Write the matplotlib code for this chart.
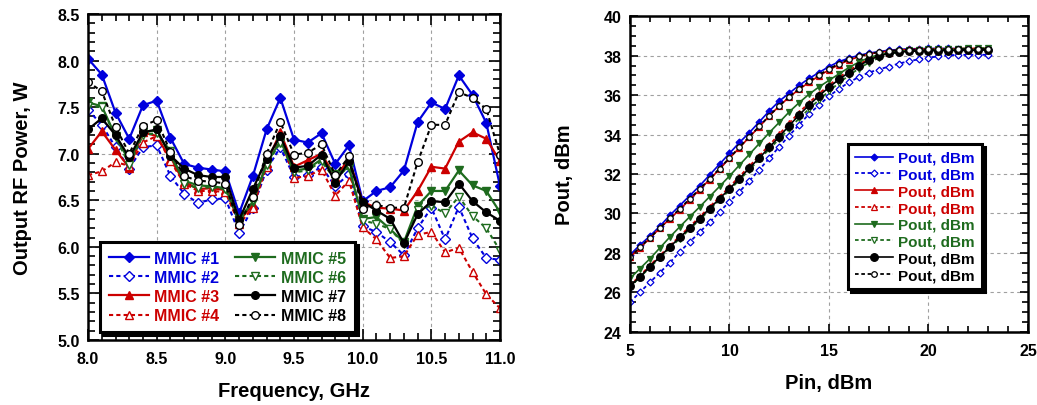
import matplotlib
matplotlib.use("Agg")
import matplotlib.pyplot as plt
from matplotlib.ticker import MultipleLocator, FormatStrFormatter

plt.rcParams["font.family"] = ["Liberation Sans", "DejaVu Sans"]
plt.rcParams["font.weight"] = "bold"
plt.rcParams["axes.labelweight"] = "bold"

# ---- left chart: output power vs frequency ----
freq = [8.0, 8.1, 8.2, 8.3, 8.4, 8.5, 8.6, 8.7, 8.8, 8.9, 9.0, 9.1, 9.2, 9.3, 9.4, 9.5,
        9.6, 9.7, 9.8, 9.9, 10.0, 10.1, 10.2, 10.3, 10.4, 10.5, 10.6, 10.7, 10.8, 10.9, 11.0]
mmic1 = [8.02, 7.85, 7.44, 7.16, 7.52, 7.57, 7.17, 6.89, 6.85, 6.83, 6.81, 6.36, 6.76, 7.26, 7.60, 7.15,
         7.12, 7.22, 6.89, 7.09, 6.49, 6.60, 6.64, 6.82, 7.34, 7.55, 7.48, 7.84, 7.63, 7.33, 6.65]
mmic2 = [7.47, 7.31, 7.07, 6.84, 7.07, 7.09, 6.76, 6.57, 6.47, 6.51, 6.52, 6.15, 6.42, 6.83, 7.07, 6.75,
         6.77, 6.86, 6.65, 6.78, 6.22, 6.16, 6.05, 5.91, 6.20, 6.42, 6.08, 6.43, 6.09, 5.88, 5.86]
mmic3 = [7.05, 7.24, 7.04, 6.85, 7.23, 7.19, 6.94, 6.70, 6.62, 6.63, 6.61, 6.28, 6.45, 6.90, 7.23, 6.86,
         6.93, 7.00, 6.75, 6.94, 6.48, 6.42, 6.41, 6.39, 6.60, 6.86, 6.84, 7.13, 7.23, 7.16, 6.92]
mmic4 = [6.77, 6.81, 6.91, 6.87, 7.12, 7.19, 6.92, 6.68, 6.60, 6.60, 6.59, 6.24, 6.42, 6.86, 7.18, 6.74,
         6.76, 6.83, 6.55, 6.71, 6.21, 6.08, 5.88, 5.90, 6.13, 6.16, 5.94, 5.99, 5.73, 5.49, 5.34]
mmic5 = [7.55, 7.51, 7.19, 6.92, 7.23, 7.25, 6.98, 6.71, 6.66, 6.65, 6.63, 6.30, 6.48, 6.89, 7.14, 6.82,
         6.84, 6.94, 6.78, 6.85, 6.30, 6.32, 6.19, 6.05, 6.44, 6.60, 6.60, 6.82, 6.66, 6.60, 6.37]
mmic6 = [7.51, 7.50, 7.18, 6.88, 7.20, 7.22, 7.03, 6.68, 6.63, 6.64, 6.62, 6.27, 6.50, 6.88, 7.12, 6.80,
         6.82, 6.92, 6.72, 6.87, 6.28, 6.25, 6.19, 6.03, 6.40, 6.44, 6.36, 6.54, 6.33, 6.20, 5.96]
mmic7 = [7.26, 7.38, 7.20, 6.96, 7.23, 7.26, 6.98, 6.84, 6.77, 6.75, 6.75, 6.29, 6.62, 6.94, 7.19, 6.85,
         6.87, 6.99, 6.69, 6.92, 6.48, 6.39, 6.30, 6.04, 6.35, 6.49, 6.48, 6.68, 6.49, 6.37, 6.28]
mmic8 = [7.77, 7.67, 7.29, 7.00, 7.30, 7.36, 7.02, 6.76, 6.71, 6.70, 6.68, 6.23, 6.54, 7.00, 7.34, 6.99,
         7.01, 7.10, 6.77, 6.97, 6.41, 6.45, 6.42, 6.42, 6.91, 7.31, 7.31, 7.66, 7.60, 7.48, 6.99]
mmic_labels = ["MMIC #1", "MMIC #2", "MMIC #3", "MMIC #4", "MMIC #5", "MMIC #6", "MMIC #7", "MMIC #8"]

# ---- right chart: Pout vs Pin ----
pin = [5.0, 5.5, 6.0, 6.5, 7.0, 7.5, 8.0, 8.5, 9.0, 9.5, 10.0, 10.5, 11.0, 11.5, 12.0, 12.5, 13.0, 13.5,
       14.0, 14.5, 15.0, 15.5, 16.0, 16.5, 17.0, 17.5, 18.0, 18.5, 19.0, 19.5, 20.0, 20.5, 21.0, 21.5,
       22.0, 22.5, 23.0]
pout1 = [27.90, 28.40, 28.85, 29.35, 29.90, 30.40, 30.90, 31.40, 31.95, 32.50, 33.05, 33.60, 34.10, 34.65,
         35.20, 35.70, 36.10, 36.50, 36.85, 37.15, 37.45, 37.70, 37.88, 38.02, 38.13, 38.21, 38.28, 38.32,
         38.35, 38.36, 38.37, 38.37, 38.37, 38.36, 38.35, 38.33, 38.32]
pout2 = [25.50, 26.00, 26.50, 27.00, 27.50, 28.05, 28.55, 29.05, 29.55, 30.08, 30.60, 31.10, 31.65, 32.22,
         32.80, 33.38, 33.95, 34.50, 35.05, 35.50, 35.95, 36.32, 36.65, 36.92, 37.15, 37.30, 37.45, 37.60,
         37.72, 37.82, 37.90, 37.97, 38.03, 38.04, 38.05, 38.05, 38.05]
pout3 = [27.78, 28.25, 28.75, 29.25, 29.72, 30.20, 30.70, 31.20, 31.72, 32.25, 32.80, 33.33, 33.88, 34.40,
         34.95, 35.45, 35.90, 36.30, 36.65, 36.98, 37.28, 37.55, 37.78, 37.95, 38.08, 38.17, 38.24, 38.29,
         38.32, 38.34, 38.35, 38.36, 38.36, 38.36, 38.37, 38.37, 38.38]
pout4 = [26.35, 26.84, 27.36, 27.86, 28.36, 28.85, 29.33, 29.82, 30.33, 30.84, 31.35, 31.87, 32.40, 32.93,
         33.47, 34.02, 34.58, 35.12, 35.62, 36.08, 36.50, 36.90, 37.25, 37.56, 37.83, 38.02, 38.15, 38.22,
         38.27, 38.30, 38.32, 38.33, 38.34, 38.35, 38.36, 38.36, 38.37]
pout5 = [26.70, 27.20, 27.70, 28.25, 28.80, 29.32, 29.83, 30.33, 30.85, 31.37, 31.90, 32.45, 33.00, 33.55,
         34.10, 34.62, 35.15, 35.62, 36.05, 36.42, 36.75, 37.08, 37.40, 37.68, 37.90, 38.05, 38.15, 38.22,
         38.27, 38.29, 38.30, 38.31, 38.32, 38.32, 38.32, 38.31, 38.30]
pout6 = [26.28, 26.76, 27.26, 27.75, 28.25, 28.72, 29.20, 29.68, 30.18, 30.68, 31.18, 31.70, 32.22, 32.74,
         33.26, 33.78, 34.30, 34.82, 35.30, 35.76, 36.20, 36.62, 37.00, 37.35, 37.65, 37.90, 38.08, 38.18,
         38.25, 38.29, 38.32, 38.34, 38.35, 38.36, 38.37, 38.38, 38.40]
pout7 = [26.30, 26.78, 27.30, 27.80, 28.30, 28.78, 29.25, 29.74, 30.25, 30.75, 31.25, 31.77, 32.30, 32.82,
         33.35, 33.90, 34.45, 35.00, 35.50, 35.97, 36.40, 36.80, 37.15, 37.48, 37.78, 37.98, 38.12, 38.18,
         38.22, 38.24, 38.25, 38.26, 38.26, 38.27, 38.27, 38.28, 38.30]
pout8 = [27.80, 28.28, 28.76, 29.26, 29.75, 30.24, 30.74, 31.24, 31.75, 32.28, 32.82, 33.36, 33.90, 34.42,
         34.96, 35.46, 35.92, 36.33, 36.70, 37.03, 37.33, 37.60, 37.82, 37.98, 38.10, 38.18, 38.24, 38.28,
         38.30, 38.31, 38.32, 38.32, 38.33, 38.33, 38.33, 38.34, 38.34]
pout_label = "Pout, dBm"

BLUE = "#0000dd"
RED = "#cc0000"
GREEN = "#1e6b1e"
BLACK = "#000000"
DOT = (0, (2, 1.5))

# color, marker, filled, linestyle for each of the 8 series
styles = [
    (BLUE, "D", True, "-"),
    (BLUE, "D", False, DOT),
    (RED, "^", True, "-"),
    (RED, "^", False, DOT),
    (GREEN, "v", True, "-"),
    (GREEN, "v", False, DOT),
    (BLACK, "o", True, "-"),
    (BLACK, "o", False, DOT),
]


def style_axes(ax, major_len, minor_len):
    ax.tick_params(which="both", direction="in", top=True, right=True, labelsize=11.5, width=1.2)
    ax.tick_params(which="major", length=major_len)
    ax.tick_params(which="minor", length=minor_len)
    for s in ax.spines.values():
        s.set_linewidth(1.8)
    ax.grid(True, which="major", color="#a0a0a0", linestyle=(0, (3, 3)), linewidth=0.8)
    ax.set_axisbelow(True)
    for lab in ax.get_xticklabels() + ax.get_yticklabels():
        lab.set_fontweight("bold")


fig = plt.figure(figsize=(10.37, 4.06), dpi=100)

# left
ax1 = fig.add_axes([0.0849, 0.1601, 0.3973, 0.8030])
left_series = [mmic1, mmic2, mmic3, mmic4, mmic5, mmic6, mmic7, mmic8]
for vals, lab, (c, m, filled, ls) in zip(left_series, mmic_labels, styles):
    ms = 6 if m in ("^", "v") else (5 if m == "D" else 5.5)
    ax1.plot(freq, vals, color=c, linestyle=ls, linewidth=1.6 if ls == "-" else 1.5,
             marker=m, markersize=ms, markerfacecolor=c if filled else "white",
             markeredgecolor=c, markeredgewidth=1.0, label=lab)
ax1.set_xlim(8.0, 11.0)
ax1.set_ylim(5.0, 8.5)
ax1.xaxis.set_major_locator(MultipleLocator(0.5))
ax1.xaxis.set_minor_locator(MultipleLocator(0.1))
ax1.yaxis.set_major_locator(MultipleLocator(0.5))
ax1.yaxis.set_minor_locator(MultipleLocator(0.1))
ax1.xaxis.set_major_formatter(FormatStrFormatter("%.1f"))
ax1.yaxis.set_major_formatter(FormatStrFormatter("%.1f"))
style_axes(ax1, 8, 5)
ax1.tick_params(axis="x", pad=8)
ax1.tick_params(axis="y", pad=6)
ax1.set_xlabel("Frequency, GHz", fontsize=14.5, fontweight="bold", labelpad=11)
ax1.set_ylabel("Output RF Power, W", fontsize=14.5, fontweight="bold", labelpad=18)
leg1 = ax1.legend(ncol=2, loc="upper left", bbox_to_anchor=(0.029, 0.301), borderaxespad=0,
                  fontsize=11.5, labelcolor="linecolor", frameon=True, fancybox=False,
                  shadow={"color": "black", "alpha": 1}, edgecolor="black",
                  handlelength=2.5, handletextpad=0.35, columnspacing=1.0,
                  labelspacing=0.26, borderpad=0.55)
leg1.get_frame().set_linewidth(2.2)
for t in leg1.get_texts():
    t.set_fontweight("bold")

# right
ax2 = fig.add_axes([0.6075, 0.1805, 0.3838, 0.7768])
right_series = [pout1, pout2, pout3, pout4, pout5, pout6, pout7, pout8]
for vals, (c, m, filled, ls) in zip(right_series, styles):
    ms = {"D": 3.5, "^": 4.5, "v": 5, "o": 5.5 if filled else 4}[m]
    ax2.plot(pin, vals, color=c, linestyle=ls, linewidth=1.2 if ls == "-" else 1.3,
             marker=m, markersize=ms, markerfacecolor=c if filled else "white",
             markeredgecolor=c, markeredgewidth=0.9, label=pout_label)
ax2.set_xlim(5, 25)
ax2.set_ylim(24, 40)
ax2.xaxis.set_major_locator(MultipleLocator(5))
ax2.xaxis.set_minor_locator(MultipleLocator(1))
ax2.yaxis.set_major_locator(MultipleLocator(2))
ax2.yaxis.set_minor_locator(MultipleLocator(0.5))
style_axes(ax2, 6, 4)
ax2.tick_params(axis="x", pad=8)
ax2.tick_params(axis="y", pad=6)
ax2.set_xlabel("Pin, dBm", fontsize=14.5, fontweight="bold", labelpad=11)
ax2.set_ylabel("Pout, dBm", fontsize=14.5, fontweight="bold", labelpad=21)
leg2 = ax2.legend(loc="upper left", bbox_to_anchor=(0.548, 0.595), borderaxespad=0,
                  fontsize=11, labelcolor="linecolor", frameon=True, fancybox=False,
                  shadow={"color": "black", "alpha": 1}, edgecolor="black",
                  handlelength=2.5, handletextpad=0.35, labelspacing=0.18, borderpad=0.45)
leg2.get_frame().set_linewidth(2.2)
for t in leg2.get_texts():
    t.set_fontweight("bold")

fig.savefig("out.png", dpi=100)
